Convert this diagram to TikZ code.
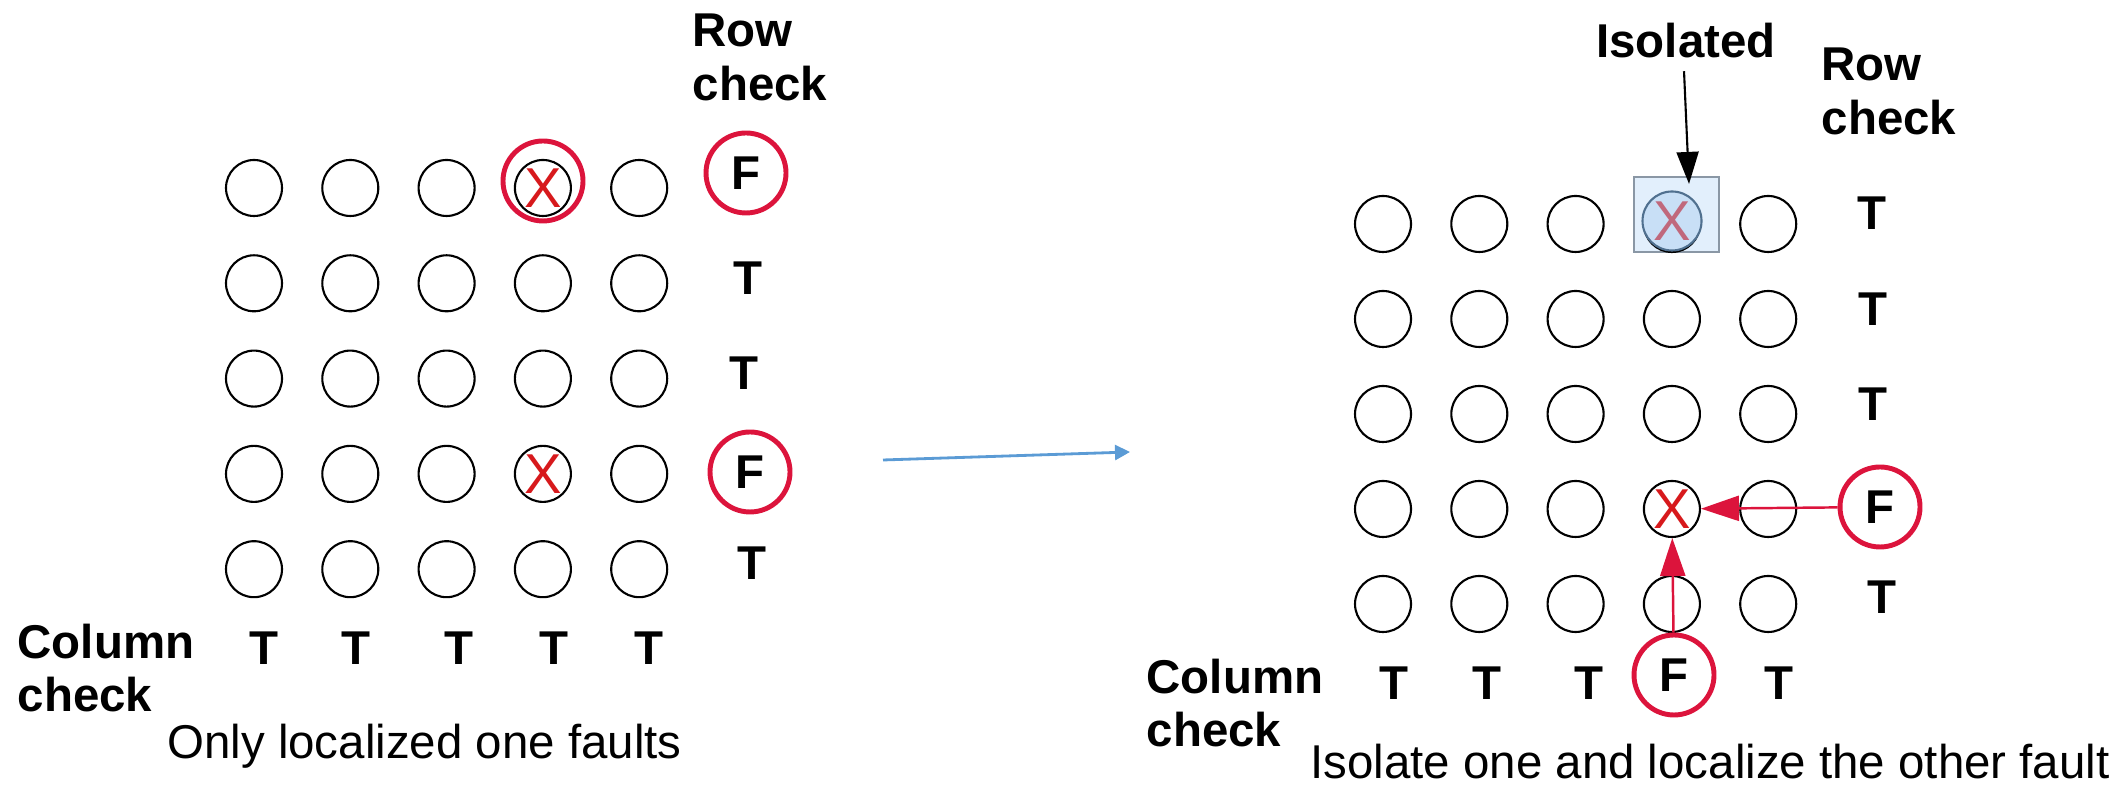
\documentclass[tikz,border=0pt]{standalone}
\usepackage{fontspec}
\setmainfont{Liberation Sans}
\usetikzlibrary{arrows.meta}
\definecolor{ringred}{HTML}{DC143C}
\definecolor{xred}{HTML}{D7191C}
\definecolor{xfaded}{HTML}{C0687C}
\definecolor{arrowblue}{HTML}{5B9BD5}
\definecolor{boxfill}{HTML}{E2EFFC}
\definecolor{boxedge}{HTML}{8A97A5}
\definecolor{cellfill}{HTML}{C8DFF6}
\definecolor{celledge}{HTML}{50708F}
\begin{document}
\begin{tikzpicture}[
  cell/.style={circle,draw,line width=0.6pt,minimum size=0.56cm,inner sep=0pt},
  ring/.style={circle,draw=ringred,line width=1.4pt,minimum size=0.8cm,inner sep=0pt},
  chk/.style={font=\fontsize{13.5}{15.3}\selectfont\bfseries,inner sep=0pt},
  lbl/.style={font=\fontsize{13.5}{15.3}\selectfont\bfseries,align=left,anchor=north west,inner sep=0pt},
  captext/.style={font=\fontsize{13.5}{15.3}\selectfont,anchor=base,inner sep=0pt},
  fault/.style={text=xred,font=\fontsize{16}{16}\selectfont,inner sep=0pt},
  redarrow/.style={draw=ringred,line width=0.7pt,-{Triangle[length=0.38cm,width=0.25cm]}}]
\useasboundingbox (0,0) rectangle (21.28,7.86);

% left: two faults in one column
\foreach \r in {1,...,5}
  \foreach \c in {1,...,5}
    \node[cell] (L\r\c) at ({2.54+0.963*(\c-1)},{5.98-0.953*(\r-1)}) {};
\node[ring] (LR) at (5.43,6.05) {};
\node[fault] (LX1) at (L14) {X};
\node[fault] (LX4) at (L44) {X};
\node[ring,chk] (LF1) at (7.46,6.13) {F};
\node[chk] (LT2) at (7.48,5.08) {T};
\node[chk] (LT3) at (7.44,4.13) {T};
\node[ring,chk] (LF4) at (7.50,3.14) {F};
\node[chk] (LT5) at (7.52,2.23) {T};
\foreach \x/\n in {2.64/1,3.56/2,4.59/3,5.54/4,6.49/5}
  \node[chk] (LC\n) at (\x,1.38) {T};
\node[lbl] (Lrow) at (6.92,7.73) {Row\\check};
\node[lbl] (Lcol) at (0.17,1.63) {Column\\check};
\node[captext] (Lcap) at (4.245,0.27) {Only localized one faults};

\coordinate (from) at (8.83,3.26);
\coordinate (to) at (11.30,3.34);
\draw[arrowblue,line width=0.8pt,-{Triangle[length=0.15cm,width=0.15cm]}] (from) -- (to);

% right: upper fault isolated, lower one found by row and column
\node[draw=boxedge,fill=boxfill,line width=0.6pt,minimum width=0.85cm,minimum height=0.75cm,inner sep=0pt] (isobox) at (16.765,5.715) {};
\foreach \r in {1,...,5}
  \foreach \c in {1,...,5}
    \node[cell] (R\r\c) at ({13.83+0.963*(\c-1)},{5.62-0.95*(\r-1)}) {};
\node[cell,draw=celledge,fill=cellfill,minimum size=0.59cm] (isocell) at (16.72,5.65) {};
\node[fault,text=xfaded] (RX1) at (isocell) {X};
\node[fault] (RX4) at (R44) {X};
\node[chk] (RT1) at (18.72,5.73) {T};
\node[chk] (RT2) at (18.73,4.77) {T};
\node[chk] (RT3) at (18.73,3.82) {T};
\node[ring,chk] (RF4) at (18.80,2.79) {F};
\node[chk] (RT5) at (18.82,1.89) {T};
\foreach \x/\n in {13.94/1,14.87/2,15.89/3,17.79/5}
  \node[chk] (RC\n) at (\x,1.03) {T};
\node[ring,chk] (RF) at (16.74,1.11) {F};
\node[lbl] (Rrow) at (18.21,7.39) {Row\\check};
\node[lbl] (Rcol) at (11.46,1.28) {Column\\check};
\node[captext] (Rcap) at (17.10,0.07) {Isolate one and localize the other fault};
\node[chk,anchor=north] (iso) at (16.86,7.64) {Isolated};

\draw[line width=0.6pt,-{Triangle[length=0.32cm,width=0.22cm]}] ([xshift=-0.02cm,yshift=-0.13cm]iso.south) -- ([xshift=0.125cm,yshift=-0.08cm]isobox.north);
\draw[redarrow] (RF4) -- (R44);
\draw[redarrow] (RF) -- (R44);
\end{tikzpicture}
\end{document}
